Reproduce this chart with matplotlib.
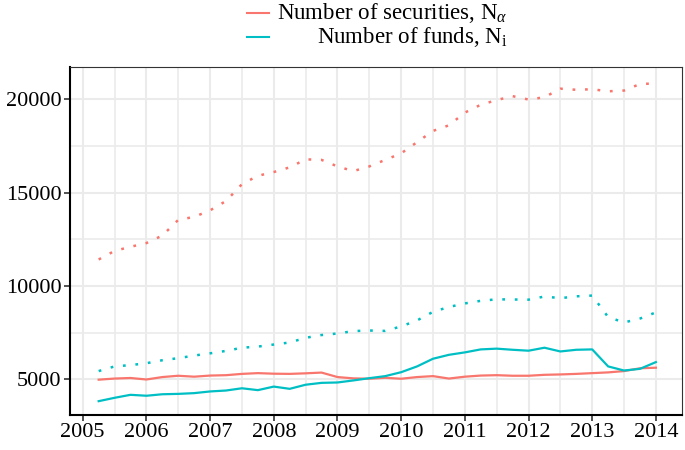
import matplotlib.pyplot as plt
from matplotlib.lines import Line2D
from matplotlib.ticker import MultipleLocator
import numpy as np

plt.rcParams['font.family'] = ['Liberation Serif', 'DejaVu Serif']
plt.rcParams['mathtext.fontset'] = 'custom'
plt.rcParams['mathtext.rm'] = 'Liberation Serif'
plt.rcParams['mathtext.it'] = 'Liberation Serif:italic'

# quarterly dates, 2005 Q2 .. 2014 Q1
t = np.arange(2005.25, 2014.01, 0.25)

sec_solid = [4990, 5050, 5080, 5000, 5130, 5200, 5150, 5210, 5230, 5300, 5340, 5310,
             5300, 5330, 5370, 5130, 5060, 5040, 5090, 5040, 5130, 5180, 5050, 5150,
             5210, 5230, 5200, 5200, 5250, 5270, 5300, 5340, 5380, 5450, 5600, 5630]
sec_dotted = [11420, 11880, 12100, 12300, 12700, 13540, 13700, 14050, 14550, 15450, 15900, 16100,
              16350, 16780, 16750, 16400, 16150, 16400, 16750, 17100, 17700, 18300, 18600, 19280,
              19700, 19950, 20160, 19980, 20100, 20560, 20500, 20530, 20420, 20460, 20810, 20840]
fund_solid = [3840, 4020, 4180, 4130, 4210, 4230, 4270, 4360, 4410, 4530, 4430, 4620,
              4500, 4720, 4820, 4840, 4950, 5070, 5180, 5390, 5700, 6110, 6320, 6450,
              6610, 6650, 6590, 6540, 6700, 6500, 6590, 6610, 5700, 5480, 5570, 5930]
fund_dotted = [5450, 5700, 5770, 5870, 6030, 6140, 6280, 6400, 6530, 6700, 6760, 6870,
               6980, 7230, 7380, 7460, 7590, 7620, 7600, 7840, 8160, 8620, 8880, 9070,
               9210, 9290, 9280, 9270, 9440, 9350, 9450, 9490, 8340, 8050, 8260, 8590]

red = '#F8766D'
cyan = '#00BFC4'

fig = plt.figure(figsize=(6.85, 4.5), dpi=100)
ax = fig.add_axes([70 / 685, 35 / 450, 612 / 685, 348 / 450])

dots = (0, (1.1, 3.9))
ax.plot(t, sec_dotted, color=red, lw=1.8, linestyle=dots, dash_capstyle='butt')
ax.plot(t, fund_dotted, color=cyan, lw=1.8, linestyle=dots, dash_capstyle='butt')
ax.plot(t, sec_solid, color=red, lw=1.6)
ax.plot(t, fund_solid, color=cyan, lw=1.6)

ax.set_xlim(2004.80, 2014.41)
ax.set_ylim(3100, 21720)
ax.xaxis.set_major_locator(MultipleLocator(1))
ax.xaxis.set_minor_locator(MultipleLocator(0.5))
ax.yaxis.set_major_locator(MultipleLocator(5000))
ax.yaxis.set_minor_locator(MultipleLocator(2500))
ax.grid(which='major', color='#EBEBEB', lw=1.5)
ax.grid(which='minor', color='#EBEBEB', lw=1.2)
ax.set_axisbelow(True)

ax.tick_params(which='major', direction='out', length=4, width=1.2, color='#333333',
               labelsize=16, labelcolor='black', pad=2)
ax.tick_params(which='minor', length=0)

for s in ['left', 'bottom']:
    ax.spines[s].set_color('black')
    ax.spines[s].set_linewidth(1.5)
for s in ['top', 'right']:
    ax.spines[s].set_color('#333333')
    ax.spines[s].set_linewidth(0.8)

# legend, text right aligned
fig.add_artist(Line2D([247 / 685, 269 / 685], [1 - 13 / 450, 1 - 13 / 450], color=red, lw=1.5))
fig.add_artist(Line2D([247 / 685, 269 / 685], [1 - 37 / 450, 1 - 37 / 450], color=cyan, lw=1.5))
fig.text(508 / 685, 1 - 13 / 450, r'Number of securities, N$_\alpha$', ha='right', va='center', fontsize=16.5)
fig.text(508 / 685, 1 - 37 / 450, r'Number of funds, N$_\mathrm{i}$', ha='right', va='center', fontsize=16.5)

fig.savefig('out.png', dpi=100)
